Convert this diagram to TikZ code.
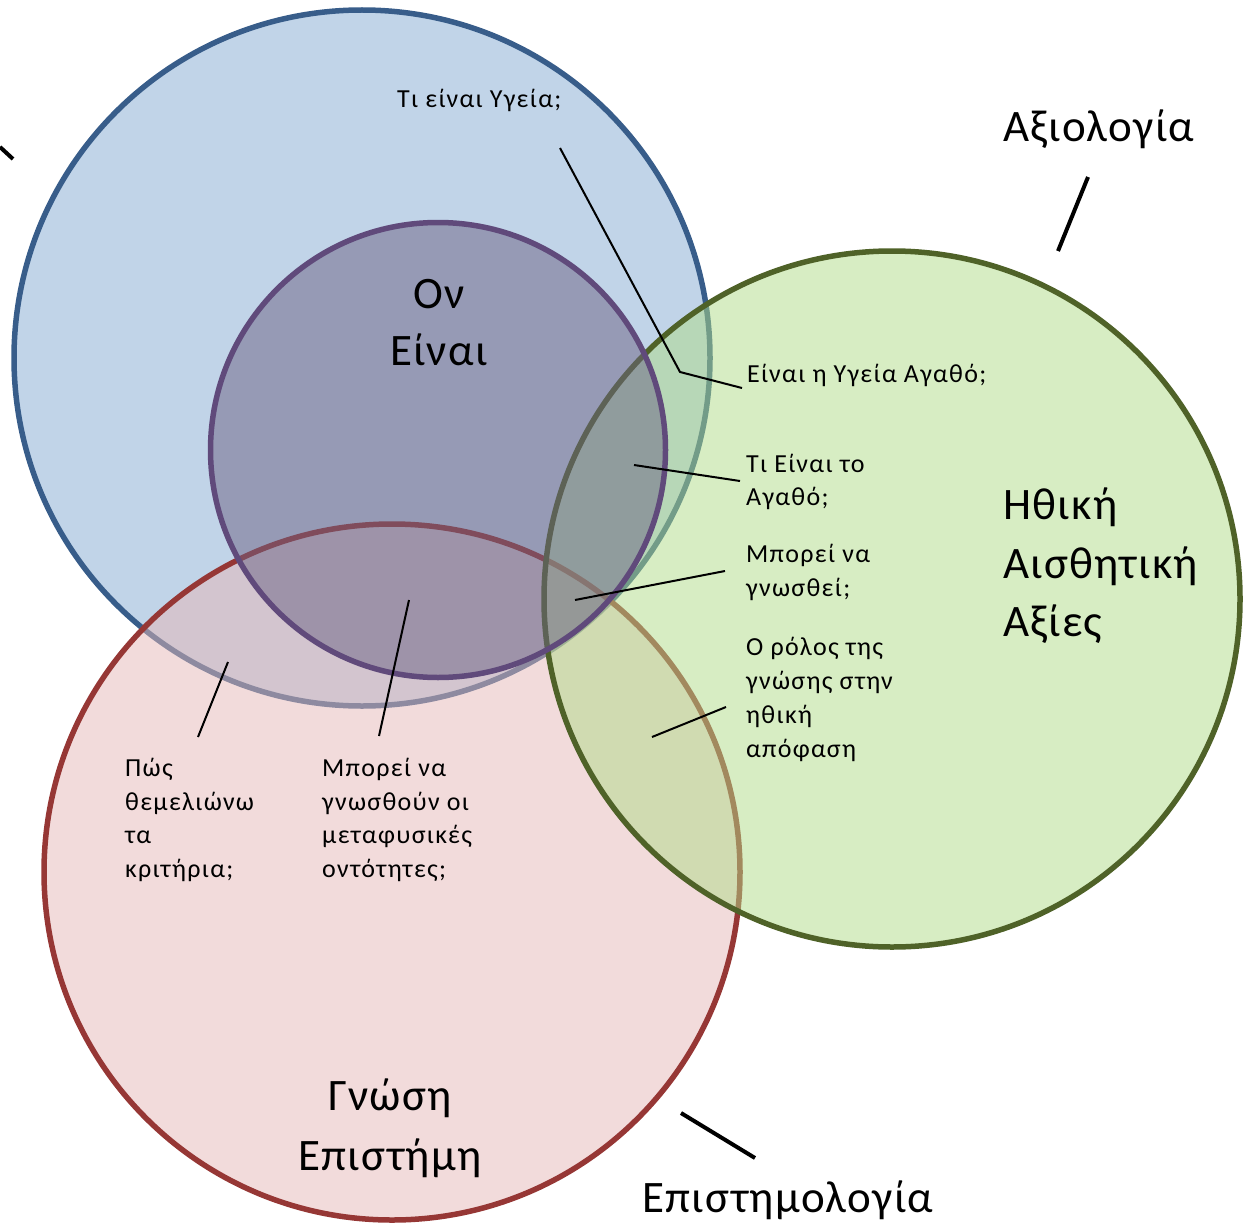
\documentclass[tikz,border=0pt]{standalone}
\usepackage{fontspec}
\setmainfont{Carlito}
\newfontfamily\qfont[LetterSpace=5]{Carlito}
\newfontfamily\bigfont[LetterSpace=3]{Carlito}
\definecolor{bluefill}{RGB}{131,169,209}
\definecolor{blueline}{RGB}{56,93,138}
\definecolor{redfill}{RGB}{229,183,183}
\definecolor{redline}{RGB}{150,55,53}
\definecolor{greenfill}{RGB}{175,219,135}
\definecolor{greenline}{RGB}{79,98,40}
\definecolor{purplefill}{RGB}{107,98,132}
\definecolor{purpleline}{RGB}{96,74,123}
\begin{document}
\begin{tikzpicture}[x=1pt,y=-1pt,
  venn/.style={circle,minimum size=#1,inner sep=0pt,line width=5.5pt,fill opacity=0.5,draw opacity=1},
  small/.style={anchor=base west,inner sep=0pt,font=\qfont\fontsize{26}{34}\selectfont},
  big/.style={inner sep=0pt,font=\bigfont\fontsize{45}{58}\selectfont},
  leader/.style={line width=2pt,black},
  tag/.style={line width=4pt,black}]
\useasboundingbox (0,0) rectangle (1249,1225);
% circles (order: blue, red, green, purple)
\node[venn=696pt,draw=blueline,fill=bluefill] (onto) at (362,358) {};
\node[venn=696pt,draw=redline,fill=redfill] (epist) at (392,872) {};
\node[venn=696pt,draw=greenline,fill=greenfill] (axio) at (892,599) {};
\node[venn=455pt,draw=purpleline,fill=purplefill] (on) at (438,450) {};
% main labels
\node[big,anchor=base] (onA) at (439,308) {Ον};
\node[big,anchor=base] (onB) at (439,365) {Είναι};
\node[big,anchor=base west] (ethA) at (1003,519) {Ηθική};
\node[big,anchor=base west] (ethB) at (1003,578) {Αισθητική};
\node[big,anchor=base west] (ethC) at (1003,636) {Αξίες};
\node[big,anchor=base] (gnA) at (390,1110) {Γνώση};
\node[big,anchor=base] (gnB) at (390,1170) {Επιστήμη};
\node[big,anchor=base west] (axiolabel) at (1003,142) {Αξιολογία};
\node[big,anchor=base west] (epilabel) at (642,1212) {Επιστημολογία};
% small question labels
\node[small] (q1) at (397,108) {Τι είναι Υγεία;};
\node[small] (q2) at (747,382) {Είναι η Υγεία Αγαθό;};
\node[small] (q3a) at (746,472) {Τι Είναι το};
\node[small] (q3b) at (746,505) {Αγαθό;};
\node[small] (q4a) at (746,562) {Μπορεί να};
\node[small] (q4b) at (746,596) {γνωσθεί;};
\node[small] (q5a) at (746,655) {Ο ρόλος της};
\node[small] (q5b) at (746,689) {γνώσης στην};
\node[small] (q5c) at (746,723) {ηθική};
\node[small] (q5d) at (746,757) {απόφαση};
\node[small] (q6a) at (125,776) {Πώς};
\node[small] (q6b) at (125,810) {θεμελιώνω};
\node[small] (q6c) at (125,843) {τα};
\node[small] (q6d) at (125,877) {κριτήρια;};
\node[small] (q7a) at (322,776) {Μπορεί να};
\node[small] (q7b) at (322,810) {γνωσθούν οι};
\node[small] (q7c) at (322,843) {μεταφυσικές};
\node[small] (q7d) at (322,877) {οντότητες;};
% leader coordinates
\coordinate (l1s) at (560,148);
\coordinate (l1m) at (680,372);
\coordinate (l1e) at (742,388);
\coordinate (l2s) at (634,465);
\coordinate (l2e) at (740,481);
\coordinate (l3s) at (575,600);
\coordinate (l3e) at (725,571);
\coordinate (l4s) at (652,737);
\coordinate (l4e) at (726,707);
\coordinate (l5s) at (198,737);
\coordinate (l5e) at (228,662);
\coordinate (l6s) at (379,736);
\coordinate (l6e) at (409,600);
\coordinate (t1s) at (1088,177);
\coordinate (t1e) at (1058,251);
\coordinate (t2s) at (681,1113);
\coordinate (t2e) at (755,1158);
\coordinate (t3s) at (0,147);
\coordinate (t3e) at (13,159);
\draw[leader] (l1s) -- (l1m) -- (l1e);
\draw[leader] (l2s) -- (l2e);
\draw[leader] (l3s) -- (l3e);
\draw[leader] (l4s) -- (l4e);
\draw[leader] (l5s) -- (l5e);
\draw[leader] (l6s) -- (l6e);
\draw[tag] (t1s) -- (t1e);
\draw[tag] (t2s) -- (t2e);
\draw[tag] (t3s) -- (t3e);
\end{tikzpicture}
\end{document}
